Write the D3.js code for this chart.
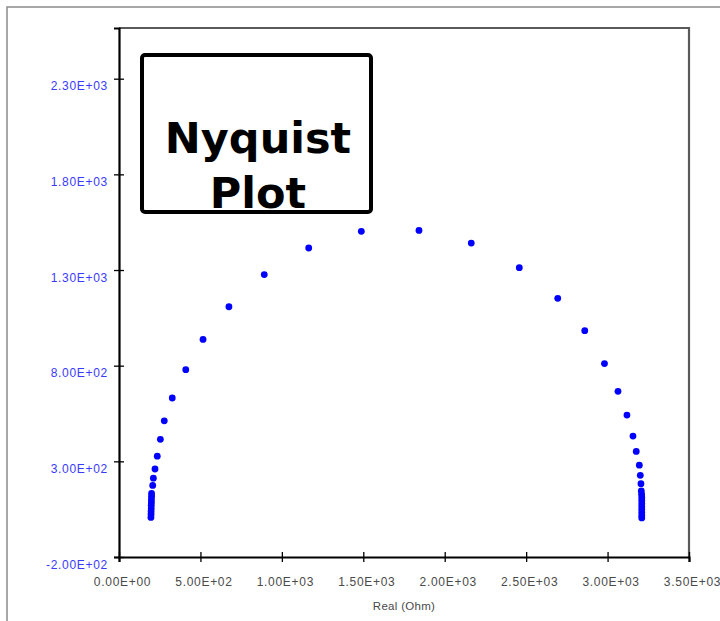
<!DOCTYPE html>
<html>
<head>
<meta charset="utf-8">
<script src="https://cdn.jsdelivr.net/npm/d3@7/dist/d3.min.js"></script>
<style>
  html, body { margin: 0; padding: 0; background: #fff; }
  svg { display: block; }
</style>
</head>
<body>
<svg id="chart" width="720" height="621"></svg>
<script>
// Impedance spectrum: real part (Ohm) vs imaginary part (Ohm)
const realOhm = [
  196, 197, 197, 198, 198, 199, 199, 200, 200,
  207, 211, 221, 235, 254, 278, 327, 410, 516, 675, 892, 1165, 1488,
  1842, 2163, 2458, 2694, 2860, 2981, 3064, 3119, 3156, 3176, 3195, 3201, 3205, 3207,
  3209, 3210, 3210, 3210, 3210, 3210, 3210, 3210, 3210
];
const imagOhm = [
  7, 23, 38, 54, 70, 85, 101, 117, 132,
  174, 212, 260, 327, 415, 512, 631, 779, 937, 1108, 1276, 1415, 1502,
  1507, 1441, 1312, 1152, 983, 811, 666, 542, 432, 352, 280, 227, 183, 145,
  127, 111, 96, 80, 64, 49, 33, 17, 4
];
const xTicks = [0, 500, 1000, 1500, 2000, 2500, 3000, 3500];
const yTicks = [-200, 300, 800, 1300, 1800, 2300];
const xTitle = "Real (Ohm)";
const titleLines = ["Nyquist", "Plot"];

const svg = d3.select("#chart");
const plot = { left: 119, right: 689, top: 28, bottom: 557 };

const x = d3.scaleLinear().domain([0, 3500]).range([plot.left, plot.right]);
const y = d3.scaleLinear().domain([-200, 2565]).range([plot.bottom, plot.top]);

const sci = v => {
  const s = v.toExponential(2).toUpperCase();     // e.g. 2.30E+3
  return s.replace(/E([+-])(\d)$/, "E$10$2");      // pad exponent to two digits
};

// outer chart frame (extends past the window on right and bottom)
svg.append("rect")
  .attr("x", 7).attr("y", 7)
  .attr("width", 760).attr("height", 660)
  .attr("fill", "#fff").attr("stroke", "#8a8a8a").attr("stroke-width", 1.5);

// plot area border: grey top and right edges
svg.append("path")
  .attr("d", `M${plot.left},${plot.top}H${plot.right}V${plot.bottom}`)
  .attr("fill", "none").attr("stroke", "#5a5a5a").attr("stroke-width", 2.2);

// x axis
const gx = svg.append("g")
  .attr("transform", `translate(0,${plot.bottom})`)
  .call(d3.axisBottom(x).tickValues(xTicks).tickFormat(sci).tickSize(5).tickPadding(0));
gx.select(".domain").attr("stroke", "#000").attr("stroke-width", 2.2);
gx.selectAll(".tick line").attr("y1", -5).attr("y2", 5).attr("stroke", "#000").attr("stroke-width", 1.3);
gx.selectAll(".tick text")
  .attr("dy", null).attr("y", 29).attr("x", 3)
  .attr("fill", "#4a4a4a")
  .style("font-family", "'Liberation Sans', Arial, sans-serif")
  .style("font-size", "12px")
  .style("letter-spacing", "0.7px");

// y axis
const gy = svg.append("g")
  .attr("transform", `translate(${plot.left},0)`)
  .call(d3.axisLeft(y).tickValues(yTicks).tickFormat(sci).tickSize(5).tickPadding(0));
gy.select(".domain").attr("stroke", "#000").attr("stroke-width", 2.2);
gy.selectAll(".tick line").attr("x1", -5).attr("x2", 5).attr("stroke", "#000").attr("stroke-width", 1.3);
gy.selectAll(".tick text")
  .attr("dy", null).attr("y", 11).attr("x", -11)
  .attr("fill", "#3a3aff")
  .style("font-family", "'Liberation Sans', Arial, sans-serif")
  .style("font-size", "12px")
  .style("letter-spacing", "0.7px");
svg.selectAll(".domain").attr("fill", "none");

// axis title
svg.append("text")
  .attr("x", (plot.left + plot.right) / 2)
  .attr("y", 610)
  .attr("text-anchor", "middle")
  .attr("fill", "#4a4a4a")
  .style("font-family", "'Liberation Sans', Arial, sans-serif")
  .style("font-size", "11.5px")
  .style("letter-spacing", "0.3px")
  .text(xTitle);

// data points
svg.append("g").selectAll("circle")
  .data(realOhm.map((r, i) => [r, imagOhm[i]]))
  .join("circle")
  .attr("cx", d => x(d[0]))
  .attr("cy", d => y(d[1]))
  .attr("r", 3.4)
  .attr("fill", "#0000ff");

// title box; the second line sits down on the bottom edge
const box = svg.append("g");
box.append("rect")
  .attr("x", 142).attr("y", 55)
  .attr("width", 229).attr("height", 157)
  .attr("rx", 3)
  .attr("fill", "none").attr("stroke", "#000").attr("stroke-width", 4);
box.selectAll("text")
  .data(titleLines)
  .join("text")
  .attr("x", 258)
  .attr("y", (d, i) => 153 + i * 55)
  .attr("text-anchor", "middle")
  .attr("fill", "#000")
  .style("font-family", "'DejaVu Sans', Verdana, sans-serif")
  .style("font-weight", "bold")
  .style("font-size", "43px")
  .text(d => d);
</script>
</body>
</html>
